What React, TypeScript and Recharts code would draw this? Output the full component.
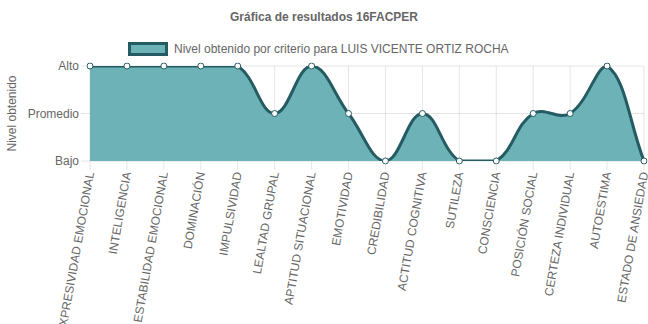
import { AreaChart, Area, XAxis, YAxis, CartesianGrid } from 'recharts';

const categories = [
  'EXPRESIVIDAD EMOCIONAL',
  'INTELIGENCIA',
  'ESTABILIDAD EMOCIONAL',
  'DOMINACIÓN',
  'IMPULSIVIDAD',
  'LEALTAD GRUPAL',
  'APTITUD SITUACIONAL',
  'EMOTIVIDAD',
  'CREDIBILIDAD',
  'ACTITUD COGNITIVA',
  'SUTILEZA',
  'CONSCIENCIA',
  'POSICIÓN SOCIAL',
  'CERTEZA INDIVIDUAL',
  'AUTOESTIMA',
  'ESTADO DE ANSIEDAD',
];

// 1 = Bajo, 2 = Promedio, 3 = Alto
const levels = [3, 3, 3, 3, 3, 2, 3, 2, 1, 2, 1, 1, 2, 2, 3, 1];

const levelTicks = [1, 2, 3];
const levelLabels = ['Bajo', 'Promedio', 'Alto'];

const data = categories.map((name, i) => ({ name, nivel: levels[i] }));

const FONT = '"Liberation Sans", Arial, Helvetica, sans-serif';
const GREY = '#666';

// spline like chart.js (tension 0.4, control points capped to the drawn range)
const TENSION = 0.4;
function splineCurve(context: any) {
  let pts: number[][] = [];
  let line = NaN;
  return {
    areaStart() { line = 0; },
    areaEnd() { line = NaN; },
    lineStart() { pts = []; },
    point(x: number, y: number) { pts.push([+x, +y]); },
    lineEnd() {
      const n = pts.length;
      if (n) {
        if (line) context.lineTo(pts[0][0], pts[0][1]);
        else context.moveTo(pts[0][0], pts[0][1]);
        const ys = pts.map((p) => p[1]);
        const lo = Math.min(...ys);
        const hi = Math.max(...ys);
        const cap = (v: number) => Math.max(lo, Math.min(hi, v));
        const cps = pts.map((p, i) => {
          const prev = pts[i - 1] || p;
          const next = pts[i + 1] || p;
          const d01 = Math.hypot(p[0] - prev[0], p[1] - prev[1]);
          const d12 = Math.hypot(next[0] - p[0], next[1] - p[1]);
          let s01 = d01 / (d01 + d12);
          let s12 = d12 / (d01 + d12);
          if (isNaN(s01)) s01 = 0;
          if (isNaN(s12)) s12 = 0;
          const fa = TENSION * s01;
          const fb = TENSION * s12;
          return {
            px: p[0] - fa * (next[0] - prev[0]),
            py: cap(p[1] - fa * (next[1] - prev[1])),
            nx: p[0] + fb * (next[0] - prev[0]),
            ny: cap(p[1] + fb * (next[1] - prev[1])),
          };
        });
        for (let i = 1; i < n; i++) {
          context.bezierCurveTo(cps[i - 1].nx, cps[i - 1].ny, cps[i].px, cps[i].py, pts[i][0], pts[i][1]);
        }
        if (line || (line !== 0 && n === 1)) context.closePath();
      }
      line = 1 - line;
    },
  };
}

const XTick = ({ x, y, payload }: any) => (
  <g transform={`translate(${x},${y}) rotate(-80)`}>
    <text textAnchor="end" dy="0.35em" fontSize={12} fill={GREY} fontFamily={FONT}>
      {payload.value}
    </text>
  </g>
);

const YTitle = ({ viewBox }: any) => {
  const cy = viewBox.y + viewBox.height / 2;
  return (
    <text
      x={12}
      y={cy}
      transform={`rotate(-90, 12, ${cy})`}
      textAnchor="middle"
      dominantBaseline="central"
      fontSize={12}
      fill={GREY}
      fontFamily={FONT}
    >
      Nivel obtenido
    </text>
  );
};

export default function App() {
  return (
    <div style={{ position: 'relative', width: 648, height: 324, fontFamily: FONT }}>
      <style>{'body{margin:0}'}</style>
      <div
        style={{
          position: 'absolute', left: 0, top: 10, width: 648, textAlign: 'center',
          fontSize: 12, fontWeight: 'bold', color: GREY, lineHeight: '14px',
        }}
      >
        Gráfica de resultados 16FACPER
      </div>
      <div style={{ position: 'absolute', left: 128, top: 42, display: 'flex', alignItems: 'center' }}>
        <div
          style={{
            width: 40, height: 14, boxSizing: 'border-box', background: '#6db2b6',
            border: '3px solid #255c63',
          }}
        />
        <span style={{ marginLeft: 6, fontSize: 12, color: GREY, lineHeight: '14px' }}>
          Nivel obtenido por criterio para LUIS VICENTE ORTIZ ROCHA
        </span>
      </div>
      <AreaChart width={648} height={324} data={data} margin={{ top: 66, right: 4, bottom: 0, left: 0 }}>
        <CartesianGrid stroke="rgba(0,0,0,0.1)" />
        <XAxis
          dataKey="name"
          interval={0}
          height={163}
          axisLine={false}
          tickSize={9}
          tickMargin={2}
          tickLine={{ stroke: 'rgba(0,0,0,0.1)' }}
          tick={<XTick />}
        />
        <YAxis
          type="number"
          domain={[1, 3]}
          allowDataOverflow
          ticks={levelTicks}
          width={90}
          axisLine={false}
          tickSize={9}
          tickMargin={2}
          tickLine={{ stroke: 'rgba(0,0,0,0.1)' }}
          tickFormatter={(v: number) => levelLabels[v - 1]}
          tick={{ fontSize: 12, fill: GREY, fontFamily: FONT }}
          label={<YTitle />}
        />
        <Area
          type={splineCurve as any}
          dataKey="nivel"
          stroke="#255c63"
          strokeWidth={3}
          fill="#6db2b6"
          fillOpacity={1}
          dot={{ r: 3, fill: '#fff', stroke: '#255c63', strokeWidth: 1, clipDot: false }}
          activeDot={false}
          isAnimationActive={false}
        />
      </AreaChart>
    </div>
  );
}
